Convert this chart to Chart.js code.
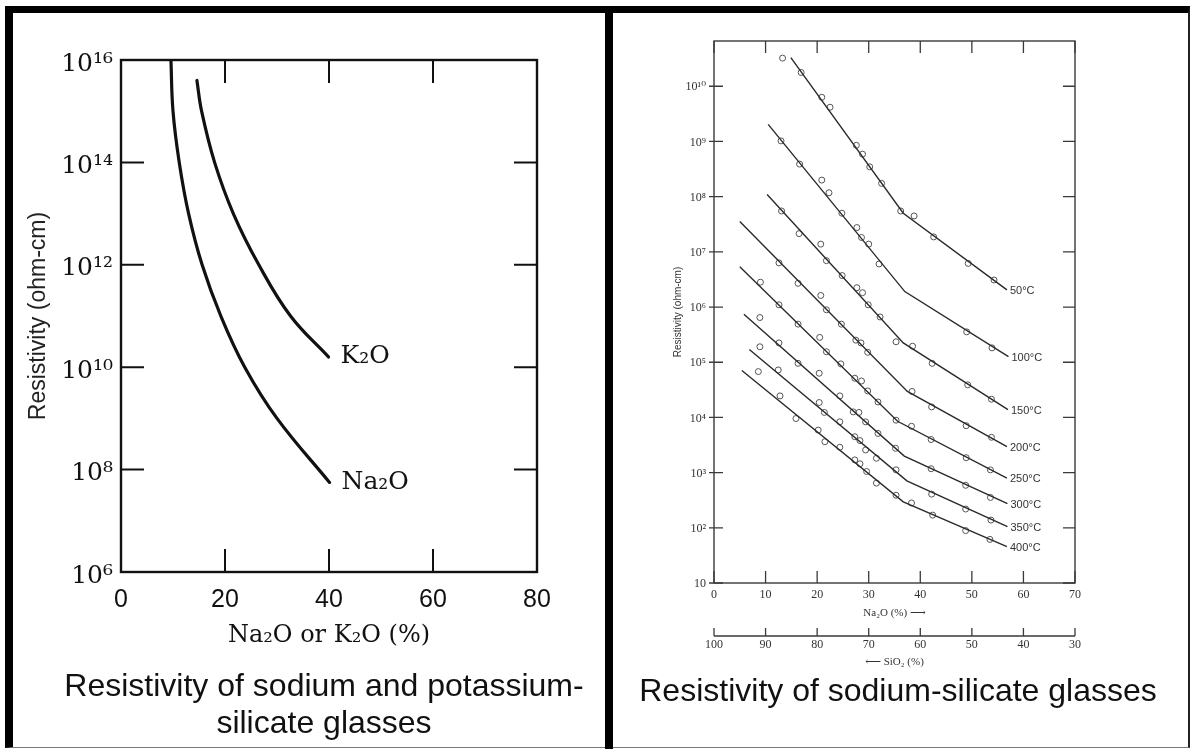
<!DOCTYPE html>
<html>
<head>
<meta charset="utf-8">
<script src="https://cdn.jsdelivr.net/npm/chart.js@4.4.1/dist/chart.umd.min.js"></script>
<style>
  html, body { margin: 0; padding: 0; background: #fff; }
  body { width: 1194px; height: 749px; overflow: hidden; position: relative; }
  #frame { position: absolute; left: 5px; top: 6px; width: 1175px; height: 734px;
           border-top: 7px solid #000; border-left: 8px solid #000;
           border-right: 2px solid #222; border-bottom: 1px solid #777; }
  #divider { position: absolute; left: 605px; top: 6px; width: 8px; height: 743px; background: #000; }
  canvas { position: absolute; }
  #left { left: 13px; top: 13px; width: 592px; height: 734px; }
  #right { left: 613px; top: 13px; width: 575px; height: 734px; }
  .cap { position: absolute; font-family: "Liberation Sans", Arial, sans-serif; font-size: 32px;
         line-height: 37px; color: #111; text-align: center; white-space: nowrap; z-index: 3; }
  #capL { left: 28px; width: 592px; top: 667px; }
  #capR { left: 613px; width: 570px; top: 672px; }
</style>
</head>
<body>
<div id="frame"></div>
<div id="divider"></div>
<canvas id="left" width="592" height="734"></canvas>
<canvas id="right" width="575" height="734"></canvas>
<div class="cap" id="capL">Resistivity of sodium and potassium-<br>silicate glasses</div>
<div class="cap" id="capR">Resistivity of sodium-silicate glasses</div>
<script>
// ---------------- Left chart data ----------------
const leftXTicks = [0, 20, 40, 60, 80];
const leftYTickExp = [6, 8, 10, 12, 14, 16];
const leftYTickLabels = ['10⁶', '10⁸', '10¹⁰', '10¹²', '10¹⁴', '10¹⁶'];
const curveLabels = ['Na₂O', 'K₂O'];
const na2oPct = [9.6, 10.0, 11.2, 13.0, 15.6, 19.2, 23.8, 30.0, 40.1];
const na2oLogRho = [16, 15, 14, 13, 12, 11, 10, 9, 7.75];
const k2oPct = [14.6, 15.5, 18.0, 21.6, 26.5, 32.6, 39.9];
const k2oLogRho = [15.6, 15, 14, 13, 12, 11, 10.2];

// ---------------- Right chart data ----------------
const rightXTicks = [0, 10, 20, 30, 40, 50, 60, 70];
const sio2Ticks = [100, 90, 80, 70, 60, 50, 40, 30];
const rightYTickExp = [1, 2, 3, 4, 5, 6, 7, 8, 9, 10];
const rightYTickLabels = ['10', '10²', '10³', '10⁴', '10⁵', '10⁶', '10⁷', '10⁸', '10⁹', '10¹⁰'];
const tempLabels = ['50°C', '100°C', '150°C', '200°C', '250°C', '300°C', '350°C', '400°C'];

const fit50X = [14.9, 36.7, 56.8];   const fit50Log = [10.52, 7.70, 6.31];
const obs50X = [13.3, 16.9, 20.9, 22.5, 27.6, 28.8, 30.2, 32.5, 36.2, 38.8, 42.6, 49.3, 54.3];
const obs50Log = [10.51, 10.25, 9.80, 9.62, 8.93, 8.77, 8.54, 8.24, 7.74, 7.65, 7.27, 6.79, 6.49];

const fit100X = [10.5, 37.0, 57.1];  const fit100Log = [9.31, 6.28, 5.10];
const obs100X = [13.0, 16.6, 20.9, 22.3, 24.8, 27.7, 28.6, 30.0, 32.0, 49.0, 53.9];
const obs100Log = [9.01, 8.59, 8.30, 8.07, 7.70, 7.44, 7.26, 7.14, 6.78, 5.55, 5.26];

const fit150X = [10.3, 36.7, 57.0];  const fit150Log = [8.04, 5.35, 4.14];
const obs150X = [13.1, 16.5, 20.7, 21.8, 24.85, 27.7, 28.8, 29.9, 32.2, 35.3, 38.5, 42.3, 49.2, 53.8];
const obs150Log = [7.74, 7.33, 7.14, 6.84, 6.57, 6.35, 6.26, 6.04, 5.82, 5.37, 5.29, 4.98, 4.59, 4.33];

const fit200X = [5.0, 37.5, 56.8];   const fit200Log = [7.55, 4.47, 3.47];
const obs200X = [12.6, 16.3, 20.7, 21.8, 24.7, 27.5, 28.5, 29.8, 38.4, 42.2, 48.9, 53.8];
const obs200Log = [6.80, 6.43, 6.21, 5.95, 5.69, 5.40, 5.35, 5.18, 4.47, 4.19, 3.85, 3.64];

const fit250X = [5.0, 35.6, 56.8];   const fit250Log = [6.73, 3.93, 2.90];
const obs250X = [9.0, 12.6, 16.3, 20.5, 21.8, 24.6, 27.3, 28.6, 29.8, 31.8, 35.3, 38.3, 42.1, 48.9, 53.6];
const obs250Log = [6.45, 6.04, 5.69, 5.45, 5.19, 4.97, 4.71, 4.66, 4.48, 4.28, 3.95, 3.84, 3.60, 3.27, 3.05];

const fit300X = [5.8, 36.9, 56.9];   const fit300Log = [5.87, 3.30, 2.44];
const obs300X = [8.9, 12.6, 16.3, 20.4, 24.4, 27.0, 28.1, 29.4, 31.8, 35.2, 42.1, 48.8, 53.6];
const obs300Log = [5.81, 5.35, 4.98, 4.80, 4.39, 4.10, 4.09, 3.92, 3.71, 3.44, 3.07, 2.77, 2.55];

const fit350X = [6.85, 37.4, 56.9];  const fit350Log = [5.23, 2.85, 2.02];
const obs350X = [8.9, 12.45, 20.4, 21.4, 24.4, 27.3, 28.3, 29.4, 31.5, 35.3, 42.2, 48.8, 53.7];
const obs350Log = [5.28, 4.86, 4.27, 4.09, 3.92, 3.65, 3.58, 3.41, 3.26, 3.05, 2.61, 2.34, 2.14];

const fit400X = [5.4, 36.7, 56.8];   const fit400Log = [4.85, 2.47, 1.66];
const obs400X = [8.6, 12.8, 15.9, 20.2, 21.5, 24.4, 27.3, 28.3, 29.6, 31.5, 35.3, 38.3, 42.4, 48.8, 53.5];
const obs400Log = [4.83, 4.39, 3.98, 3.77, 3.56, 3.46, 3.23, 3.16, 3.02, 2.81, 2.59, 2.45, 2.23, 1.95, 1.79];

// ---------------- helpers ----------------
const toPts = (xs, logs) => xs.map((x, i) => ({ x: x, y: Math.pow(10, logs[i]) }));
const pow10 = e => Math.pow(10, e);

const decorPlugin = {
  id: 'decor',
  afterDatasetsDraw(chart, args, o) {
    const { ctx, chartArea: a, scales } = chart;
    const sx = scales.x, sy = scales.y;
    ctx.save();
    ctx.strokeStyle = o.color;
    ctx.lineWidth = o.frameWidth;
    ctx.strokeRect(a.left, a.top, a.right - a.left, a.bottom - a.top);
    ctx.lineWidth = o.tickWidth;
    ctx.beginPath();
    o.yTicks.forEach(v => {
      const y = sy.getPixelForValue(v);
      ctx.moveTo(a.left - o.yOut, y); ctx.lineTo(a.left + o.yIn, y);
      ctx.moveTo(a.right - o.rIn, y); ctx.lineTo(a.right, y);
    });
    o.xTicks.forEach(v => {
      const x = sx.getPixelForValue(v);
      ctx.moveTo(x, a.top); ctx.lineTo(x, a.top + o.tIn);
      ctx.moveTo(x, a.bottom); ctx.lineTo(x, a.bottom - o.bIn);
    });
    if (scales.x2 && o.x2Ticks) {
      const s2 = scales.x2;
      const y0 = s2.top;
      ctx.moveTo(s2.left, y0); ctx.lineTo(s2.right, y0);
      o.x2Ticks.forEach(v => {
        const x = s2.getPixelForValue(v);
        ctx.moveTo(x, y0); ctx.lineTo(x, y0 - o.x2Up);
      });
    }
    ctx.stroke();
    ctx.font = o.labelFont;
    ctx.fillStyle = o.labelColor;
    ctx.textBaseline = 'middle';
    ctx.textAlign = 'left';
    chart.data.datasets.forEach((ds, i) => {
      if (!ds.endLabel) return;
      const meta = chart.getDatasetMeta(i);
      const p = meta.data[meta.data.length - 1];
      ctx.fillText(ds.endLabel, p.x + o.labelDx, p.y + o.labelDy);
    });
    ctx.restore();
  }
};

// ---------------- Left chart ----------------
const serifL = '"DejaVu Serif", "Liberation Serif", serif';
const sansL = '"Liberation Sans", Arial, sans-serif';
new Chart(document.getElementById('left'), {
  type: 'scatter',
  data: {
    datasets: [
      { label: curveLabels[0], endLabel: curveLabels[0], data: toPts(na2oPct, na2oLogRho),
        showLine: true, borderColor: '#111', borderWidth: 3.2, pointRadius: 0,
        tension: 0.4, borderCapStyle: 'round', borderJoinStyle: 'round' },
      { label: curveLabels[1], endLabel: curveLabels[1], data: toPts(k2oPct, k2oLogRho),
        showLine: true, borderColor: '#111', borderWidth: 3.2, pointRadius: 0,
        tension: 0.4, borderCapStyle: 'round', borderJoinStyle: 'round' }
    ]
  },
  options: {
    responsive: false, animation: false, events: [],
    layout: { padding: { top: 47, right: 68, left: 0, bottom: 0 } },
    plugins: {
      legend: { display: false }, tooltip: { enabled: false },
      decor: { color: '#111', frameWidth: 2.4, tickWidth: 2,
        yTicks: leftYTickExp.map(pow10), xTicks: leftXTicks,
        yOut: 0, yIn: 23, rIn: 23, tIn: 23, bIn: 23,
        labelFont: '25px ' + serifL, labelColor: '#111', labelDx: 12, labelDy: 0 }
    },
    scales: {
      x: { type: 'linear', position: 'bottom', min: 0, max: 80,
        afterBuildTicks: s => { s.ticks = leftXTicks.map(v => ({ value: v })); },
        ticks: { callback: v => String(v), font: { family: sansL, size: 25 }, color: '#111',
                 padding: 13, maxRotation: 0, autoSkip: false },
        grid: { display: false, drawTicks: false }, border: { display: false },
        title: { display: true, text: 'Na₂O or K₂O (%)', font: { family: serifL, size: 24 },
                 color: '#111', padding: { top: 0, bottom: 97 } },
        afterFit: s => { s.height = 175; } },
      y: { type: 'logarithmic', min: pow10(6), max: pow10(16),
        afterBuildTicks: s => { s.ticks = leftYTickExp.map(e => ({ value: pow10(e) })); },
        ticks: { callback: (v, i) => leftYTickLabels[i], font: { family: serifL, size: 25 },
                 color: '#111', padding: 8, labelOffset: 4, autoSkip: false },
        grid: { display: false, drawTicks: false }, border: { display: false },
        title: { display: true, text: 'Resistivity (ohm-cm)', font: { family: sansL, size: 23 },
                 color: '#222', padding: { top: 12, bottom: 0 } },
        afterFit: s => { s.width = 108; } }
    }
  },
  plugins: [decorPlugin]
});

// ---------------- Right chart ----------------
const fitX = [fit50X, fit100X, fit150X, fit200X, fit250X, fit300X, fit350X, fit400X];
const fitLog = [fit50Log, fit100Log, fit150Log, fit200Log, fit250Log, fit300Log, fit350Log, fit400Log];
const obsX = [obs50X, obs100X, obs150X, obs200X, obs250X, obs300X, obs350X, obs400X];
const obsLog = [obs50Log, obs100Log, obs150Log, obs200Log, obs250Log, obs300Log, obs350Log, obs400Log];
const rightDatasets = [];
tempLabels.forEach((t, i) => {
  rightDatasets.push({ label: t + ' fit', endLabel: t, data: toPts(fitX[i], fitLog[i]),
    showLine: true, borderColor: '#2a2a2a', borderWidth: 1.4, pointRadius: 0, tension: 0 });
  rightDatasets.push({ label: t, data: toPts(obsX[i], obsLog[i]), showLine: false,
    pointRadius: 3, pointBorderColor: '#555', pointBackgroundColor: 'rgba(255,255,255,0)',
    pointBorderWidth: 1 });
});
const serifR = '"Liberation Serif", "DejaVu Serif", serif';
new Chart(document.getElementById('right'), {
  type: 'scatter',
  data: { datasets: rightDatasets },
  options: {
    responsive: false, animation: false, events: [],
    layout: { padding: { top: 28, right: 113, left: 0, bottom: 0 } },
    plugins: {
      legend: { display: false }, tooltip: { enabled: false },
      decor: { color: '#3a3a3a', frameWidth: 1.4, tickWidth: 1.3,
        yTicks: rightYTickExp.map(pow10), xTicks: rightXTicks, x2Ticks: sio2Ticks,
        yOut: 5, yIn: 9, rIn: 12, tIn: 12, bIn: 12, x2Up: 8,
        labelFont: '11px ' + sansL, labelColor: '#333', labelDx: 3, labelDy: 1 }
    },
    scales: {
      x: { type: 'linear', position: 'bottom', weight: 0, min: 0, max: 70,
        afterBuildTicks: s => { s.ticks = rightXTicks.map(v => ({ value: v })); },
        ticks: { callback: v => String(v), font: { family: serifR, size: 12 }, color: '#333',
                 padding: 5, maxRotation: 0, autoSkip: false },
        grid: { display: false, drawTicks: false }, border: { display: false },
        title: { display: true, text: 'Na₂O (%) ⟶', font: { family: serifR, size: 11 },
                 color: '#333', padding: { top: 0, bottom: 16 } },
        afterFit: s => { s.height = 53; } },
      x2: { type: 'linear', position: 'bottom', weight: 1, min: 30, max: 100, reverse: true,
        afterBuildTicks: s => { s.ticks = sio2Ticks.map(v => ({ value: v })); },
        ticks: { callback: v => String(v), font: { family: serifR, size: 12 }, color: '#333',
                 padding: 2, maxRotation: 0, autoSkip: false },
        grid: { display: false, drawTicks: false }, border: { display: false },
        title: { display: true, text: '⟵ SiO₂ (%)', font: { family: serifR, size: 11 },
                 color: '#333', padding: { top: 0, bottom: 78 } },
        afterFit: s => { s.height = 111; } },
      y: { type: 'logarithmic', min: pow10(1), max: pow10(10.82),
        afterBuildTicks: s => { s.ticks = rightYTickExp.map(e => ({ value: pow10(e) })); },
        ticks: { callback: (v, i) => rightYTickLabels[i], font: { family: serifR, size: 12 },
                 color: '#333', padding: 8, labelOffset: 1, autoSkip: false },
        grid: { display: false, drawTicks: false }, border: { display: false },
        title: { display: true, text: 'Resistivity (ohm-cm)', font: { family: sansL, size: 10 },
                 color: '#333', padding: { top: 59, bottom: 0 } },
        afterFit: s => { s.width = 101; } }
    }
  },
  plugins: [decorPlugin]
});
</script>
</body>
</html>
